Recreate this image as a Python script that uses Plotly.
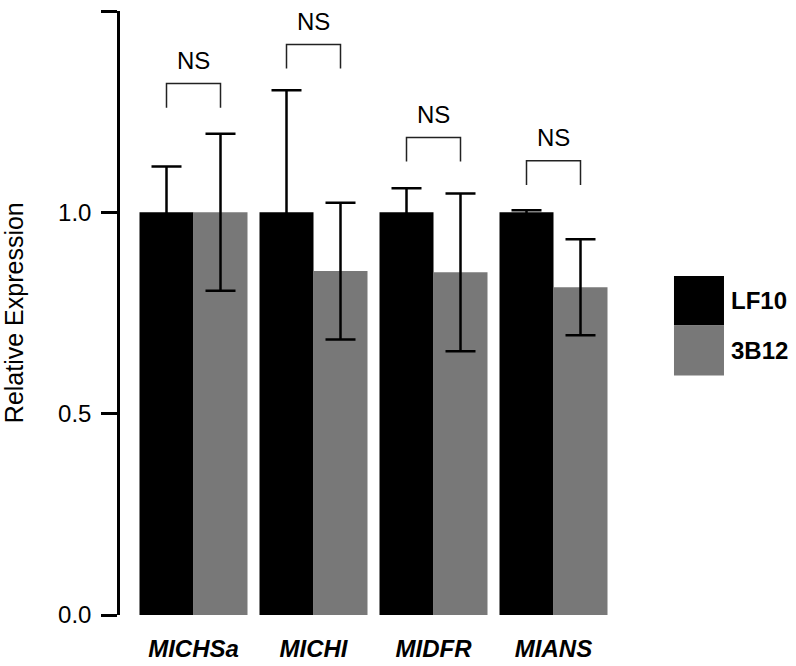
import plotly.graph_objects as go

genes = ["MICHSa", "MICHI", "MIDFR", "MIANS"]
lf10_mean = [1.0, 1.0, 1.0, 1.0]
lf10_err = [0.114, 0.303, 0.060, 0.005]
b12_mean = [1.0, 0.854, 0.851, 0.814]
b12_err = [0.195, 0.170, 0.196, 0.119]
sig_labels = ["NS", "NS", "NS", "NS"]
bracket_level = [1.320, 1.417, 1.186, 1.128]

FONT = "Liberation Sans, Arial, Helvetica, sans-serif"
BLACK = "#000000"
GRAY = "#787878"

fig = go.Figure()
fig.add_trace(go.Bar(
    x=genes, y=lf10_mean, name="LF10", marker=dict(color=BLACK, line=dict(width=0)),
    error_y=dict(type="data", array=lf10_err, visible=True, color=BLACK, thickness=2.5, width=15),
    showlegend=False,
))
fig.add_trace(go.Bar(
    x=genes, y=b12_mean, name="3B12", marker=dict(color=GRAY, line=dict(width=0)),
    error_y=dict(type="data", array=b12_err, visible=True, color=BLACK, thickness=2.5, width=15),
    showlegend=False,
))

# significance brackets
half = 0.225
leg = 0.06
for i, (lvl, lab) in enumerate(zip(bracket_level, sig_labels)):
    x0, x1 = i - half, i + half
    fig.add_shape(type="path",
                  path=f"M {x0} {lvl-leg} L {x0} {lvl} L {x1} {lvl} L {x1} {lvl-leg}",
                  xref="x", yref="y", line=dict(color="#222222", width=1.5))
    fig.add_annotation(x=i, y=lvl + 0.058, xref="x", yref="y", text=lab, showarrow=False,
                       font=dict(family=FONT, size=24, color=BLACK), yanchor="middle")

# custom legend (large square swatches)
legend_items = [("LF10", BLACK), ("3B12", GRAY)]
box_x0, box_x1 = 1.0259, 1.1185
box_tops = [0.5613, 0.4785]
box_h = 0.0820
for (name, col), top in zip(legend_items, box_tops):
    fig.add_shape(type="rect", xref="paper", yref="paper", x0=box_x0, x1=box_x1,
                  y0=top - box_h, y1=top, fillcolor=col, line=dict(width=0))
    fig.add_annotation(xref="paper", yref="paper", x=box_x1 + 0.010, y=top - box_h / 2,
                       text=f"<b>{name}</b>", showarrow=False, xanchor="left", yanchor="middle",
                       font=dict(family=FONT, size=24, color=BLACK))

# y-axis title
fig.add_annotation(xref="paper", yref="paper", x=-0.196, y=0.5, text="Relative Expression",
                   textangle=-90, showarrow=False, xanchor="center", yanchor="middle",
                   font=dict(family=FONT, size=25, color=BLACK))

fig.update_layout(
    width=796, height=666,
    margin=dict(l=120, r=136, t=11, b=51, autoexpand=False),
    paper_bgcolor="white", plot_bgcolor="white",
    barmode="group", bargap=0.1, bargroupgap=0,
    font=dict(family=FONT, color=BLACK),
)
fig.update_xaxes(
    range=[-0.6125, 3.8875], showline=False, showgrid=False, zeroline=False, ticks="",
    tickfont=dict(family=FONT, size=24, color=BLACK, weight="bold", style="italic"),
    ticklabelstandoff=17,
)
fig.update_yaxes(
    range=[0, 1.5], tickvals=[0, 0.5, 1.0, 1.5], tickformat=".1f",
    showline=True, linecolor=BLACK, linewidth=2.5, ticks="outside", ticklen=16,
    tickwidth=2.5, tickcolor=BLACK, showgrid=False, zeroline=False,
    tickfont=dict(family=FONT, size=24, color=BLACK), ticklabelstandoff=5,
)

fig.write_html("out.html", config={"displayModeBar": False},
               post_script="document.body.style.margin='0';")
